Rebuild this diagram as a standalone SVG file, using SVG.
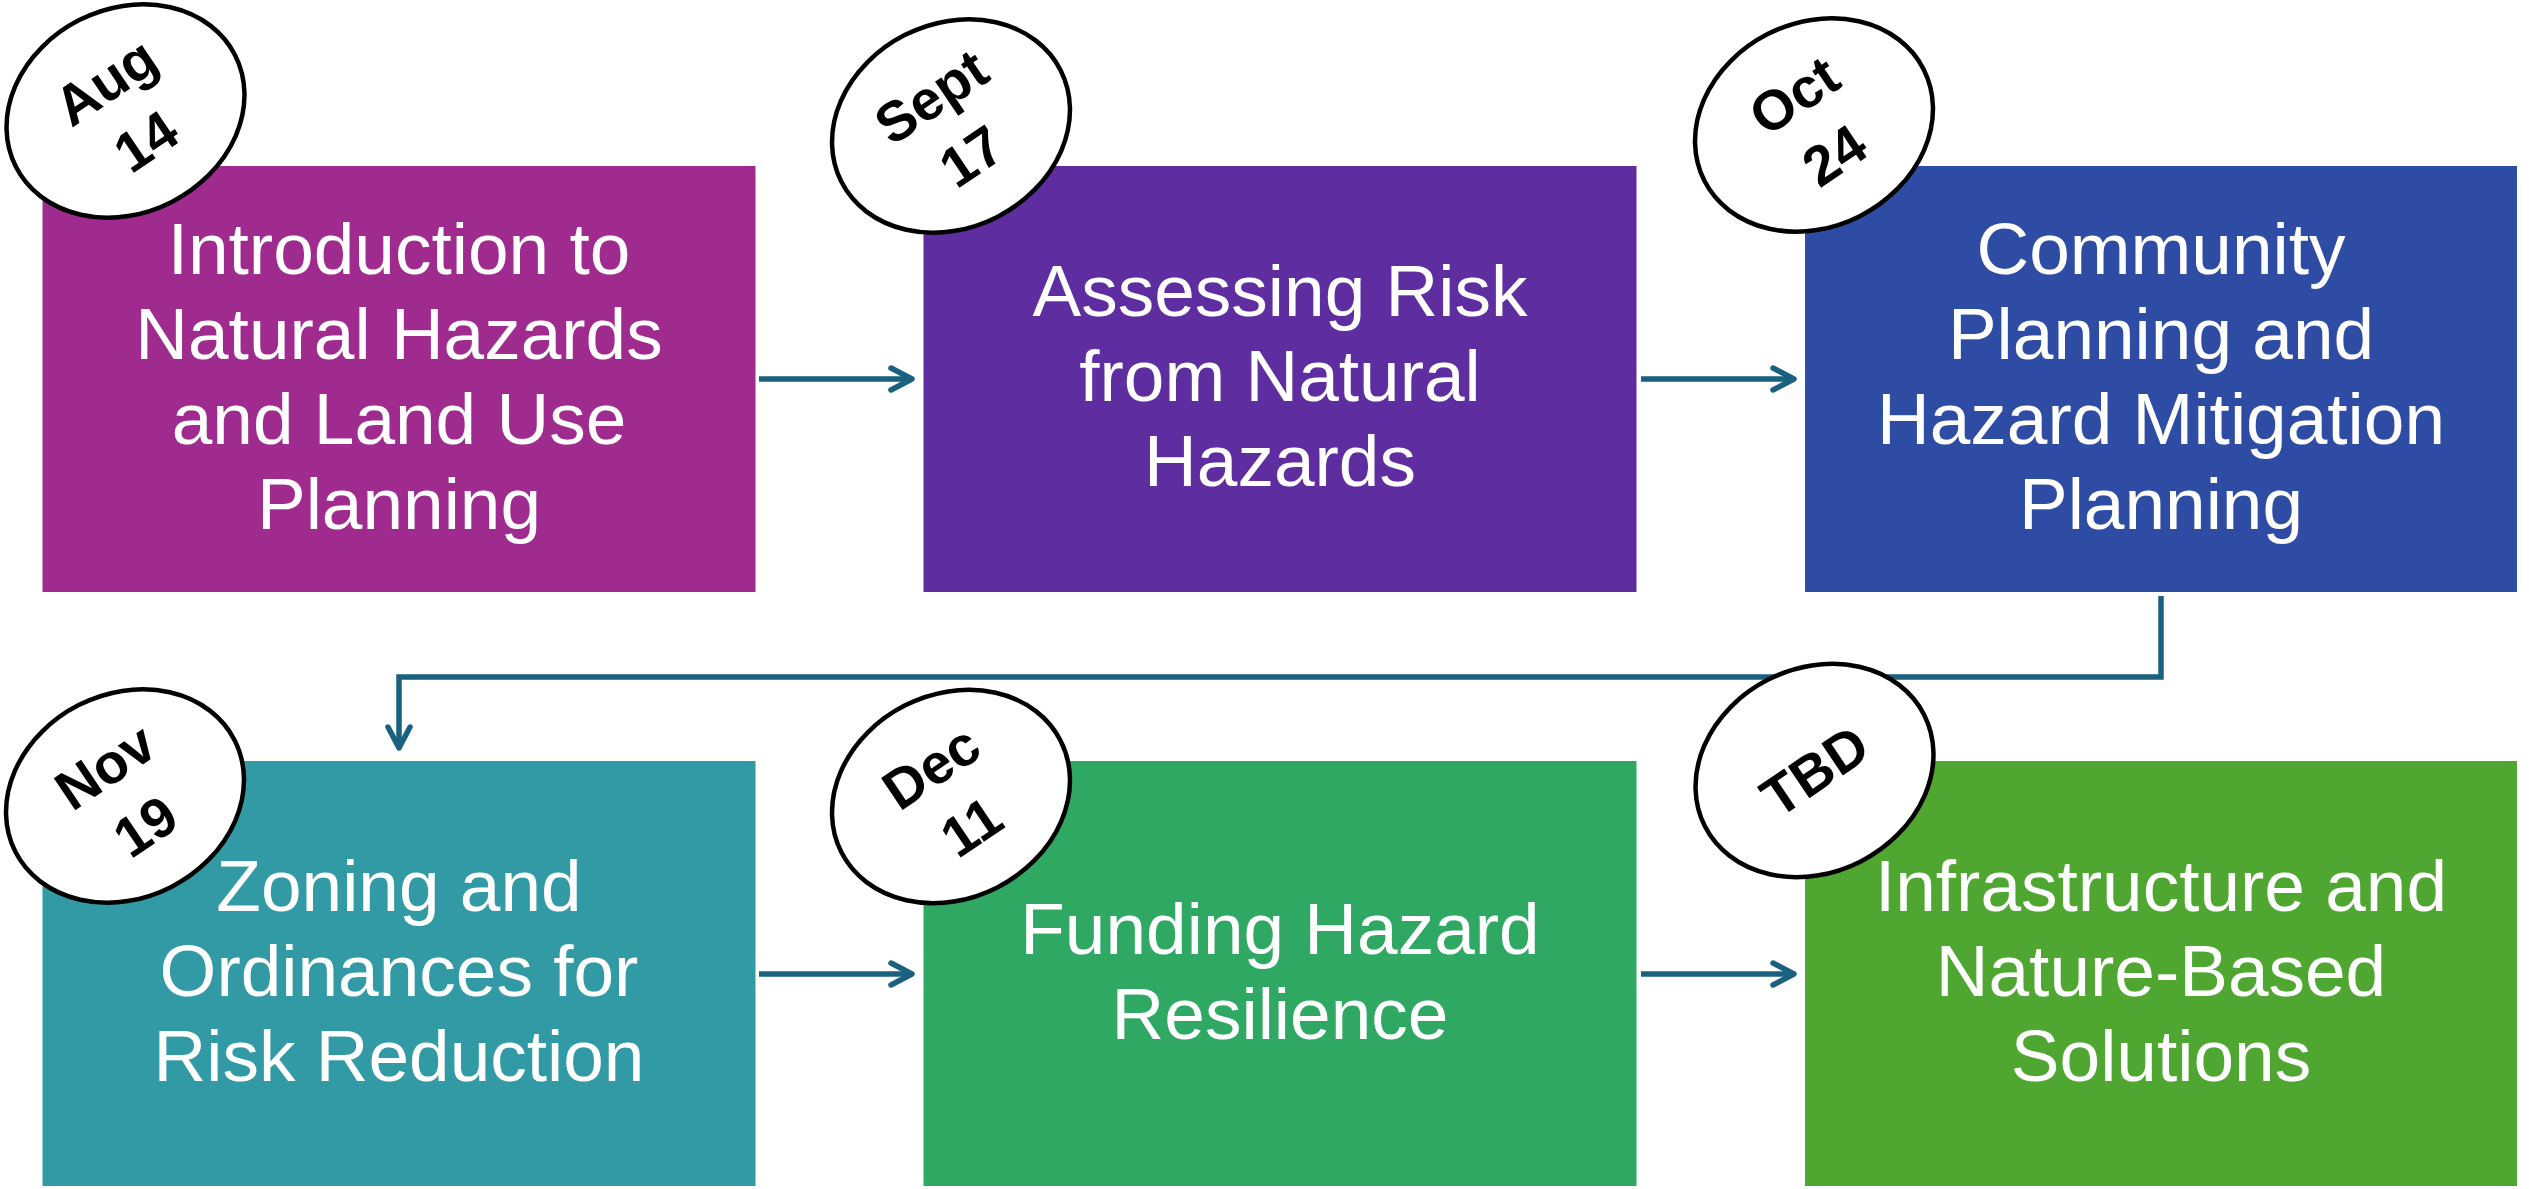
<svg xmlns="http://www.w3.org/2000/svg" width="2529" height="1189" viewBox="0 0 2529 1189">
<style>
.box{stroke:none}
.t{font-family:"Liberation Sans",Arial,sans-serif;font-size:73px;fill:#ffffff;text-anchor:middle}
.badge{fill:#ffffff;stroke:#000000;stroke-width:4.5}
.bt{font-family:"Liberation Sans",Arial,sans-serif;font-size:56px;font-weight:bold;fill:#000000;text-anchor:middle}
.conn{fill:none;stroke:#19617f;stroke-width:5.5;stroke-linejoin:miter}
</style>
<defs>
<marker id="arr" markerUnits="userSpaceOnUse" orient="auto" refX="0" refY="0" markerWidth="40" markerHeight="40" overflow="visible">
<path d="M-21,-11 L0,0 L-21,11" fill="none" stroke="#19617f" stroke-width="5.5" stroke-linecap="round" stroke-linejoin="round"/>
</marker>
</defs>
<rect width="2529" height="1189" fill="#ffffff"/>
<g id="connectors">
<path class="conn" d="M759,379 H912" marker-end="url(#arr)"/>
<path class="conn" d="M1641,379 H1794" marker-end="url(#arr)"/>
<path class="conn" d="M2161,596 V677 H399 V748" marker-end="url(#arr)"/>
<path class="conn" d="M759,974 H912" marker-end="url(#arr)"/>
<path class="conn" d="M1641,974 H1794" marker-end="url(#arr)"/>
</g>
<g id="node1">
<rect class="box" x="42.5" y="166" width="713" height="426" fill="#9f2b8f"/>
<text class="t" x="399" y="273.5">Introduction to</text>
<text class="t" x="399" y="358.5">Natural Hazards</text>
<text class="t" x="399" y="443.5">and Land Use</text>
<text class="t" x="399" y="528.5">Planning</text>
<g transform="translate(125.5,111)">
<ellipse class="badge" rx="123" ry="102" transform="rotate(-27)"/>
<g transform="rotate(-34)"><text class="bt" x="0" y="-16">Aug</text><text class="bt" x="0" y="56">14</text></g>
</g>
</g>
<g id="node2">
<rect class="box" x="923.5" y="166" width="713" height="426" fill="#5e2d9f"/>
<text class="t" x="1280" y="316">Assessing Risk</text>
<text class="t" x="1280" y="401">from Natural</text>
<text class="t" x="1280" y="486">Hazards</text>
<g transform="translate(951,126)">
<ellipse class="badge" rx="123" ry="102" transform="rotate(-27)"/>
<g transform="rotate(-34)"><text class="bt" x="0" y="-16">Sept</text><text class="bt" x="0" y="56">17</text></g>
</g>
</g>
<g id="node3">
<rect class="box" x="1805" y="166" width="712" height="426" fill="#2e4ca4"/>
<text class="t" x="2161" y="273.5">Community</text>
<text class="t" x="2161" y="358.5">Planning and</text>
<text class="t" x="2161" y="443.5">Hazard Mitigation</text>
<text class="t" x="2161" y="528.5">Planning</text>
<g transform="translate(1814,125)">
<ellipse class="badge" rx="123" ry="102" transform="rotate(-27)"/>
<g transform="rotate(-34)"><text class="bt" x="0" y="-16">Oct</text><text class="bt" x="0" y="56">24</text></g>
</g>
</g>
<g id="node4">
<rect class="box" x="42.5" y="761" width="713" height="425" fill="#319aa4"/>
<text class="t" x="399" y="911">Zoning and</text>
<text class="t" x="399" y="996">Ordinances for</text>
<text class="t" x="399" y="1081">Risk Reduction</text>
<g transform="translate(125,796)">
<ellipse class="badge" rx="123" ry="102" transform="rotate(-27)"/>
<g transform="rotate(-34)"><text class="bt" x="0" y="-16">Nov</text><text class="bt" x="0" y="56">19</text></g>
</g>
</g>
<g id="node5">
<rect class="box" x="923.5" y="761" width="713" height="425" fill="#2ea862"/>
<text class="t" x="1280" y="953.5">Funding Hazard</text>
<text class="t" x="1280" y="1038.5">Resilience</text>
<g transform="translate(951,796.5)">
<ellipse class="badge" rx="123" ry="102" transform="rotate(-27)"/>
<g transform="rotate(-34)"><text class="bt" x="0" y="-16">Dec</text><text class="bt" x="0" y="56">11</text></g>
</g>
</g>
<g id="node6">
<rect class="box" x="1805" y="761" width="712" height="425" fill="#4fa732"/>
<text class="t" x="2161" y="911">Infrastructure and</text>
<text class="t" x="2161" y="996">Nature-Based</text>
<text class="t" x="2161" y="1081">Solutions</text>
<g transform="translate(1814.5,770.5)">
<ellipse class="badge" rx="123" ry="102" transform="rotate(-27)"/>
<g transform="rotate(-34)"><text class="bt" x="0" y="20">TBD</text></g>
</g>
</g>
</svg>
